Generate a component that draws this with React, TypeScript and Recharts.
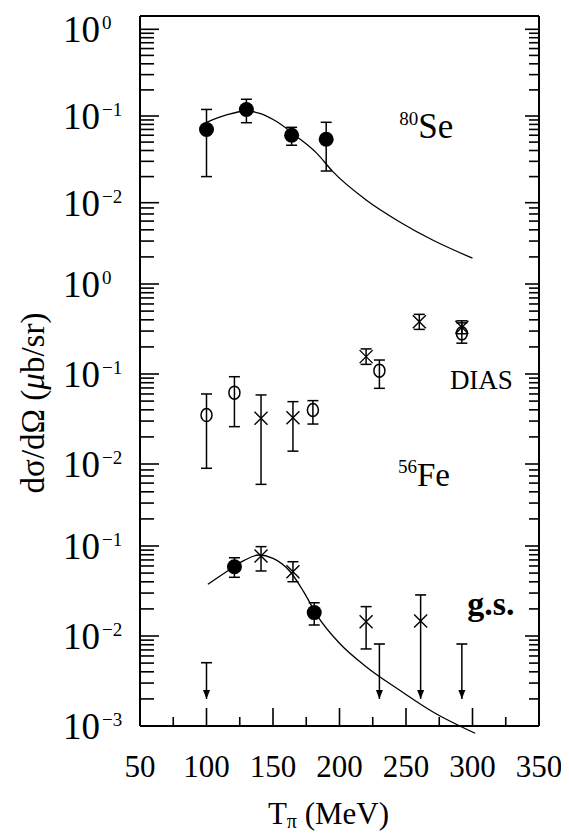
import type { ReactNode } from "react";
import {
  ComposedChart,
  ErrorBar,
  Line,
  ReferenceDot,
  Scatter,
  XAxis,
  YAxis,
} from "recharts";

const FONT = "'Liberation Serif', 'Times New Roman', serif";
const W = 553;
const H = 827;

// pion kinetic energy axis
const xTicks = [50, 75, 100, 125, 150, 175, 200, 225, 250, 275, 300, 325, 350];

// 80Se (top panel)
const seT = [100, 130, 164, 190];
const seVal = [0.07, 0.119, 0.06, 0.054];
const seHigh = [0.119, 0.156, 0.074, 0.0846];
const seLow = [0.02, 0.0837, 0.046, 0.0232];
const seCurveT = [100, 115, 130, 140, 153, 168, 183, 195, 220, 245, 270, 300];
const seCurveVal = [0.0846, 0.1027, 0.1142, 0.1074, 0.0859, 0.0577, 0.0371, 0.0228, 0.01075, 0.00604, 0.00371, 0.00229];

// 56Fe DIAS (middle panel)
const diasCrossT = [141, 165, 220, 260, 292];
const diasCrossVal = [0.0322, 0.0327, 0.156, 0.381, 0.33];
const diasCrossHigh = [0.0585, 0.0493, 0.19, 0.46, 0.39];
const diasCrossLow = [0.00594, 0.0139, 0.128, 0.313, 0.28];
const diasRingT = [100, 121, 180, 230, 292];
const diasRingVal = [0.035, 0.062, 0.0398, 0.109, 0.283];
const diasRingHigh = [0.06, 0.0933, 0.0506, 0.143, 0.37];
const diasRingLow = [0.00896, 0.026, 0.0278, 0.0693, 0.22];

// 56Fe g.s. (bottom panel)
const gsDotT = [121, 181];
const gsDotVal = [0.0589, 0.0182];
const gsDotHigh = [0.074, 0.0234];
const gsDotLow = [0.0449, 0.01325];
const gsCrossT = [141, 165, 220, 261];
const gsCrossVal = [0.0774, 0.0519, 0.0144, 0.0147];
const gsCrossHigh = [0.0984, 0.0669, 0.0212, null];
const gsCrossLow = [0.0528, 0.0401, 0.00718, null];
const gsLimitT = [100, 230, 261, 292];
const gsLimitTop = [0.00505, 0.00815, 0.0286, 0.00815];
const gsLimitTip = [0.002, 0.002, 0.002, 0.002];
const gsCurveT = [101, 115, 128, 139, 150, 163, 173, 183, 200, 220, 245, 270, 302];
const gsCurveVal = [0.0375, 0.0518, 0.0687, 0.0794, 0.073, 0.0518, 0.0311, 0.0171, 0.0083, 0.00456, 0.00251, 0.00144, 0.00083];

// log ticks per panel
const topTicks = [1, 0.9, 0.8, 0.7, 0.6, 0.5, 0.4, 0.3, 0.2, 0.1, 0.09, 0.08, 0.07, 0.06, 0.05, 0.04, 0.03, 0.02, 0.01];
const midTicks = [7, 6, 5, 4, 3, 2, 1, 0.9, 0.8, 0.7, 0.6, 0.5, 0.4, 0.3, 0.2, 0.1, 0.09, 0.08, 0.07, 0.06, 0.05, 0.04, 0.03, 0.02, 0.01];
const botTicks = [0.7, 0.6, 0.5, 0.4, 0.3, 0.2, 0.1, 0.09, 0.08, 0.07, 0.06, 0.05, 0.04, 0.03, 0.02, 0.01, 0.009, 0.008, 0.007, 0.006, 0.005, 0.004, 0.003, 0.002, 0.001];

// each panel has its own log axis stretched over the whole frame
const topDomain = [10 ** -8.0358, 10 ** 0.1534];
const midDomain = [10 ** -4.9111, 10 ** 2.9778];
const botDomain = [10 ** -3.2222, 10 ** 4.8889];

type Pt = { T: number; v: number; err: number[] | null };
const pts = (T: number[], v: number[], hi?: (number | null)[], lo?: (number | null)[]): Pt[] =>
  T.map((t, i) => {
    const h = hi ? hi[i] : null;
    const l = lo ? lo[i] : null;
    return { T: t, v: v[i], err: h != null && l != null ? [v[i] - l, h - v[i]] : null };
  });

const Dot = (p: any) => <circle cx={p.cx} cy={p.cy} r={7.5} fill="#000" />;
const Ring = (p: any) => (
  <ellipse cx={p.cx} cy={p.cy} rx={5.5} ry={6.5} fill="none" stroke="#000" strokeWidth={1.5} />
);
const Cross = (p: any) => (
  <g stroke="#000" strokeWidth={1.4}>
    <line x1={p.cx - 6.5} y1={p.cy - 6.5} x2={p.cx + 6.5} y2={p.cy + 6.5} />
    <line x1={p.cx - 6.5} y1={p.cy + 6.5} x2={p.cx + 6.5} y2={p.cy - 6.5} />
  </g>
);
const Cap = (p: any) => (
  <line x1={p.cx - 5.5} x2={p.cx + 5.5} y1={p.cy} y2={p.cy} stroke="#000" strokeWidth={1.6} />
);
const Head = (p: any) => (
  <polygon points={`${p.cx - 3.5},${p.cy - 9} ${p.cx + 3.5},${p.cy - 9} ${p.cx},${p.cy}`} fill="#000" />
);

const yTick = (side: "left" | "right", labelled: boolean) => (props: any) => {
  const { x, y, payload } = props;
  const e = Math.log10(payload.value);
  const n = Math.round(e);
  const major = Math.abs(e - n) < 1e-6;
  const len = side === "left" ? (major ? 19 : 14) : major ? 14 : 10;
  const x2 = side === "left" ? x + len : x - len;
  const exp = n === 0 ? "0" : "\u2212" + Math.abs(n);
  return (
    <g>
      <line x1={x} x2={x2} y1={y} y2={y} stroke="#000" strokeWidth={1.6} />
      {labelled && major ? (
        <text x={x - 77} y={y + 13} fontSize={37} fontFamily={FONT} fill="#000">
          10
          <tspan dx={2} dy={-13} fontSize={19}>
            {exp}
          </tspan>
        </text>
      ) : null}
    </g>
  );
};

const xTick = (side: "top" | "bottom") => (props: any) => {
  const { x, y, payload } = props;
  const major = payload.value % 50 === 0;
  const len = major ? 18 : 9;
  const y2 = side === "bottom" ? y - len : y + len;
  return (
    <g>
      <line x1={x} x2={x} y1={y} y2={y2} stroke="#000" strokeWidth={1.6} />
      {side === "bottom" && major ? (
        <text x={x} y={y + 51} textAnchor="middle" fontSize={31} fontFamily={FONT} fill="#000">
          {payload.value}
        </text>
      ) : null}
    </g>
  );
};

const XTitle = (p: any) => {
  const vb = p.viewBox;
  const cx = vb.x + vb.width / 2 - 11;
  return (
    <text x={cx} y={vb.y + 98} textAnchor="middle" fontSize={31} fontFamily={FONT} fill="#000">
      T
      <tspan fontSize={20} dy={4}>
        π
      </tspan>
      <tspan dy={-4}> (MeV)</tspan>
    </text>
  );
};

const YTitle = (p: any) => {
  const vb = p.viewBox;
  const cx = vb.x + 25;
  const cy = vb.y + vb.height / 2 + 32;
  return (
    <text
      x={cx}
      y={cy}
      transform={`rotate(-90 ${cx} ${cy})`}
      textAnchor="middle"
      dominantBaseline="central"
      fontSize={33}
      fontFamily={FONT}
      fill="#000"
    >
      dσ/dΩ (<tspan fontStyle="italic">μ</tspan>b/sr)
    </text>
  );
};

const Note = (main: string, sup: string, size: number, bold = false) => (p: any) => (
  <text x={p.cx} y={p.cy} fontSize={size} fontFamily={FONT} fontWeight={bold ? "bold" : "normal"} fill="#000">
    {sup ? (
      <tspan fontSize={19} dy={-13}>
        {sup}
      </tspan>
    ) : null}
    <tspan dy={sup ? 13 : 0}>{main}</tspan>
  </text>
);

const frameLine = { stroke: "#000", strokeWidth: 2 };

type PanelProps = {
  domain: number[];
  ticks: number[];
  bottom: number;
  frame?: boolean;
  children: ReactNode;
};

const Panel = ({ domain, ticks, bottom, frame = false, children }: PanelProps) => (
  <div style={{ position: "absolute", left: 0, top: 0 }}>
    <ComposedChart width={W} height={H} margin={{ top: frame ? 0 : 8, right: 12, bottom: 0, left: 0 }}>
      <XAxis
        xAxisId="b"
        dataKey="T"
        type="number"
        domain={[50, 350]}
        ticks={xTicks}
        interval={0}
        allowDataOverflow
        height={bottom}
        tickSize={0}
        tickMargin={0}
        tickLine={false}
        axisLine={frame ? frameLine : false}
        tick={frame ? xTick("bottom") : false}
        label={frame ? { content: XTitle } : undefined}
      />
      {frame ? (
        <XAxis
          xAxisId="t"
          orientation="top"
          type="number"
          domain={[50, 350]}
          ticks={xTicks}
          interval={0}
          allowDataOverflow
          height={8}
          tickSize={0}
          tickMargin={0}
          tickLine={false}
          axisLine={frameLine}
          tick={xTick("top")}
        />
      ) : null}
      <YAxis
        yAxisId="l"
        dataKey="v"
        type="number"
        scale="log"
        domain={domain}
        ticks={ticks}
        interval={0}
        allowDataOverflow
        width={132}
        tickSize={0}
        tickMargin={0}
        tickLine={false}
        axisLine={frame ? frameLine : false}
        tick={yTick("left", true)}
        label={frame ? { content: YTitle } : undefined}
      />
      <YAxis
        yAxisId="r"
        orientation="right"
        type="number"
        scale="log"
        domain={domain}
        ticks={ticks}
        interval={0}
        allowDataOverflow
        width={10}
        tickSize={0}
        tickMargin={0}
        tickLine={false}
        axisLine={frame ? frameLine : false}
        tick={yTick("right", false)}
      />
      {children}
    </ComposedChart>
  </div>
);

const ids = { xAxisId: "b", yAxisId: "l" };
const bar = { dataKey: "err", direction: "y" as const, width: 5.5, stroke: "#000", strokeWidth: 1.5 };

export default function App() {
  return (
    <div style={{ position: "relative", width: W, height: H, fontFamily: FONT, background: "#fff" }}>
      <Panel domain={topDomain} ticks={topTicks} bottom={109} frame>
        <Line {...ids} data={pts(seCurveT, seCurveVal)} dataKey="v" type="monotone" stroke="#000" strokeWidth={1.3} dot={false} isAnimationActive={false} />
        <Scatter {...ids} data={pts(seT, seVal, seHigh, seLow)} dataKey="v" shape={Dot} isAnimationActive={false}>
          <ErrorBar {...bar} />
        </Scatter>
        <ReferenceDot {...ids} x={245} y={0.0557} shape={Note("Se", "80", 35)} />
      </Panel>
      <Panel domain={midDomain} ticks={midTicks} bottom={109}>
        <Scatter {...ids} data={pts(diasRingT, diasRingVal, diasRingHigh, diasRingLow)} dataKey="v" shape={Ring} isAnimationActive={false}>
          <ErrorBar {...bar} />
        </Scatter>
        <Scatter {...ids} data={pts(diasCrossT, diasCrossVal, diasCrossHigh, diasCrossLow)} dataKey="v" shape={Cross} isAnimationActive={false}>
          <ErrorBar {...bar} />
        </Scatter>
        <ReferenceDot {...ids} x={283} y={0.068} shape={Note("DIAS", "", 27)} />
        <ReferenceDot {...ids} x={244} y={0.0057} shape={Note("Fe", "56", 33)} />
      </Panel>
      <Panel domain={botDomain} ticks={botTicks} bottom={89}>
        <Line {...ids} data={pts(gsCurveT, gsCurveVal)} dataKey="v" type="monotone" stroke="#000" strokeWidth={1.3} dot={false} isAnimationActive={false} />
        {gsLimitT.map((t, i) => (
          <Line
            key={`lim-${t}`}
            {...ids}
            data={[
              { T: t, v: gsLimitTop[i] },
              { T: t, v: gsLimitTip[i] },
            ]}
            dataKey="v"
            type="linear"
            stroke="#000"
            strokeWidth={1.5}
            dot={false}
            isAnimationActive={false}
          />
        ))}
        <Scatter {...ids} data={pts(gsLimitT, gsLimitTop)} dataKey="v" shape={Cap} isAnimationActive={false} />
        <Scatter {...ids} data={pts(gsLimitT, gsLimitTip)} dataKey="v" shape={Head} isAnimationActive={false} />
        <Scatter {...ids} data={pts(gsDotT, gsDotVal, gsDotHigh, gsDotLow)} dataKey="v" shape={Dot} isAnimationActive={false}>
          <ErrorBar {...bar} />
        </Scatter>
        <Scatter {...ids} data={pts(gsCrossT, gsCrossVal, gsCrossHigh, gsCrossLow)} dataKey="v" shape={Cross} isAnimationActive={false}>
          <ErrorBar {...bar} />
        </Scatter>
        <ReferenceDot {...ids} x={296} y={0.0171} shape={Note("g.s.", "", 34, true)} />
      </Panel>
    </div>
  );
}
